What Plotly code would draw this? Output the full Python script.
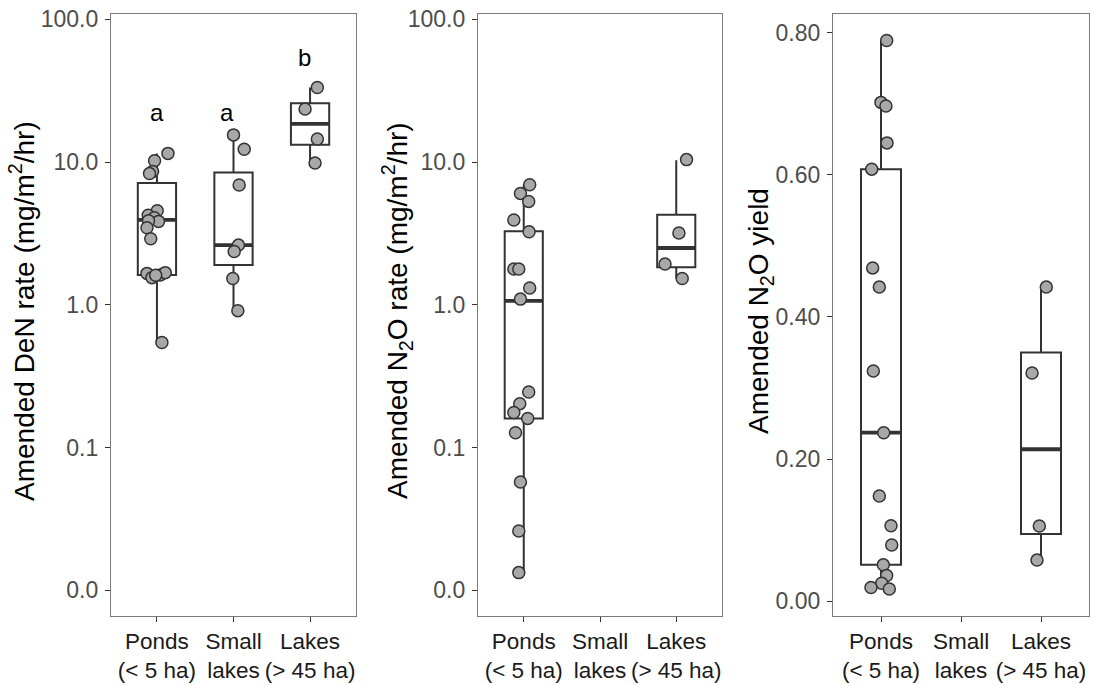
import math
import plotly.graph_objects as go

# ---------------- data ----------------
categories = ["Ponds<br>(&lt; 5 ha)", "Small<br>lakes", "Lakes<br>(&gt; 45 ha)"]

# Panel 1: Amended DeN rate (mg/m2/hr)
den_ponds = [11.5, 10.2, 8.6, 8.3, 4.56, 4.24, 4.07, 3.84, 3.88, 3.47, 2.90, 1.66, 1.55, 1.62, 1.68, 1.61, 0.544]
den_ponds_jit = [0.144, -0.031, -0.057, -0.097, 0.004, -0.114, -0.035, 0.021, -0.11, -0.13, -0.081, -0.13, -0.065, 0.043, 0.108, -0.016, 0.065]
den_small = [15.5, 12.3, 6.9, 2.62, 2.36, 1.53, 0.91]
den_small_jit = [0.0, 0.14, 0.074, 0.065, 0.009, -0.009, 0.057]
den_lakes = [33.3, 23.5, 14.5, 9.84]
den_lakes_jit = [0.095, -0.065, 0.095, 0.065]
# box statistics (Ponds, Small lakes, Lakes)
den_q1 = [1.62, 1.90, 13.2]
den_med = [3.94, 2.62, 18.5]
den_q3 = [7.13, 8.45, 25.8]
den_lo = [0.544, 0.91, 9.84]
den_hi = [11.5, 15.5, 33.3]
sig_letters = ["a", "a", "b"]
sig_letter_y = [22.3, 22.3, 53.8]
sig_letter_x = [0.0, 0.91, 1.93]

# Panel 2: Amended N2O rate (mg/m2/hr)
n2o_ponds = [6.94, 6.03, 5.30, 3.93, 3.25, 1.78, 1.78, 1.31, 1.096, 0.245, 0.203, 0.176, 0.160, 0.127, 0.0574, 0.026, 0.0133]
n2o_ponds_jit = [0.078, -0.043, 0.065, -0.13, 0.07, -0.13, -0.065, 0.078, -0.043, 0.065, -0.052, -0.13, 0.052, -0.108, -0.043, -0.065, -0.065]
n2o_lakes = [10.4, 3.18, 1.93, 1.53]
n2o_lakes_jit = [0.135, 0.035, -0.147, 0.078]
n2o_q1 = [0.160, 1.83]
n2o_med = [1.067, 2.50]
n2o_q3 = [3.27, 4.28]
n2o_lo = [0.0133, 1.53]
n2o_hi = [6.94, 10.3]

# Panel 3: Amended N2O yield
yld_ponds = [0.789, 0.702, 0.697, 0.645, 0.608, 0.469, 0.442, 0.324, 0.237, 0.148, 0.106, 0.079, 0.051, 0.036, 0.025, 0.019, 0.017]
yld_ponds_jit = [0.071, 0.0, 0.062, 0.075, -0.116, -0.104, -0.021, -0.096, 0.034, -0.021, 0.125, 0.134, 0.029, 0.071, 0.009, -0.125, 0.104]
yld_lakes = [0.442, 0.321, 0.1056, 0.0577]
yld_lakes_jit = [0.066, -0.112, -0.021, -0.05]
yld_q1 = [0.051, 0.0944]
yld_med = [0.237, 0.2137]
yld_q3 = [0.608, 0.350]
yld_lo = [0.017, 0.058]
yld_hi = [0.789, 0.442]

log_ticks = [0.01, 0.1, 1, 10, 100]
log_ticktext = ["0.0", "0.1", "1.0", "10.0", "100.0"]
lin_ticks = [0, 0.2, 0.4, 0.6, 0.8]
lin_ticktext = ["0.00", "0.20", "0.40", "0.60", "0.80"]

titles = [
    "Amended DeN rate (mg/m<sup>2</sup>/hr)",
    "Amended N<sub>2</sub>O rate (mg/m<sup>2</sup>/hr)",
    "Amended N<sub>2</sub>O yield",
]

# ---------------- style ----------------
W, H = 1097, 685
FONT = "Liberation Sans, Arial, Helvetica, sans-serif"
DARK = "#333333"
PT_FILL = "#a8a8a8"
BOX_W = 0.5

fig = go.Figure()


def add_panel(idx, xs, q1, med, q3, lo, hi, groups):
    xa = "x" if idx == 1 else f"x{idx}"
    ya = "y" if idx == 1 else f"y{idx}"
    fig.add_trace(go.Box(
        x=xs, q1=q1, median=med, q3=q3, lowerfence=lo, upperfence=hi,
        width=BOX_W, fillcolor="white", line=dict(color=DARK, width=2),
        whiskerwidth=0, boxpoints=False, showlegend=False, xaxis=xa, yaxis=ya,
    ))
    for xi, m in zip(xs, med):
        fig.add_trace(go.Scatter(
            x=[xi - BOX_W / 2, xi + BOX_W / 2], y=[m, m], mode="lines",
            line=dict(color=DARK, width=3.8), showlegend=False, hoverinfo="skip",
            xaxis=xa, yaxis=ya,
        ))
    for ci, vals, jit in groups:
        fig.add_trace(go.Scatter(
            x=[ci + j for j in jit], y=vals, mode="markers",
            marker=dict(size=12, color=PT_FILL, line=dict(color=DARK, width=1.5)),
            showlegend=False, xaxis=xa, yaxis=ya,
        ))


add_panel(1, [0, 1, 2], den_q1, den_med, den_q3, den_lo, den_hi,
          [(0, den_ponds, den_ponds_jit), (1, den_small, den_small_jit), (2, den_lakes, den_lakes_jit)])
add_panel(2, [0, 2], n2o_q1, n2o_med, n2o_q3, n2o_lo, n2o_hi,
          [(0, n2o_ponds, n2o_ponds_jit), (2, n2o_lakes, n2o_lakes_jit)])
add_panel(3, [0, 2], yld_q1, yld_med, yld_q3, yld_lo, yld_hi,
          [(0, yld_ponds, yld_ponds_jit), (2, yld_lakes, yld_lakes_jit)])

# panel pixel frames (left, right)
frames_x = [(111, 356), (478, 722), (833, 1089)]
top_px, bot_px = 14.3, 616
ydom = [1 - bot_px / H, 1 - top_px / H]

common_axis = dict(
    showline=True, mirror=True, linecolor="#7a7a7a", linewidth=1.2,
    ticks="outside", ticklen=5, tickcolor=DARK, tickwidth=1.2,
    showgrid=False, zeroline=False, automargin=False,
)

layout = dict(
    width=W, height=H, autosize=False,
    margin=dict(l=0, r=0, t=0, b=0),
    paper_bgcolor="white", plot_bgcolor="white",
    font=dict(family=FONT, color="black"),
    showlegend=False,
)

for i, (l, r) in enumerate(frames_x, start=1):
    sx = "" if i == 1 else str(i)
    layout[f"xaxis{sx}"] = dict(
        common_axis, domain=[l / W, r / W], range=[-0.6, 2.6],
        tickvals=[0, 1, 2], ticktext=categories, tickangle=0,
        tickfont=dict(size=22.5, color="#1a1a1a", family=FONT),
        anchor=f"y{sx}",
    )
    if i < 3:
        yax = dict(common_axis, type="log", range=[-2.18, 2.035],
                   tickvals=log_ticks, ticktext=log_ticktext)
    else:
        yax = dict(common_axis, range=[-0.021, 0.826],
                   tickvals=lin_ticks, ticktext=lin_ticktext)
    yax.update(domain=ydom, anchor=f"x{sx}",
               tickfont=dict(size=23, color="#4d4d4d", family=FONT),
               ticklabelstandoff=2)
    layout[f"yaxis{sx}"] = yax

fig.update_layout(**layout)

# axis titles
title_x_px = [22, 397, 760]
for t, xp in zip(titles, title_x_px):
    fig.add_annotation(
        text=t, x=xp / W, y=1 - 311 / H, xref="paper", yref="paper",
        textangle=-90, showarrow=False, xanchor="center", yanchor="middle",
        font=dict(size=28, color="black", family=FONT),
    )

# significance letters
for lt, lx, ly in zip(sig_letters, sig_letter_x, sig_letter_y):
    fig.add_annotation(
        text=lt, x=lx, y=math.log10(ly), xref="x", yref="y", showarrow=False,
        xanchor="center", yanchor="middle",
        font=dict(size=24, color="black", family=FONT),
    )

fig.write_html("out.html")
